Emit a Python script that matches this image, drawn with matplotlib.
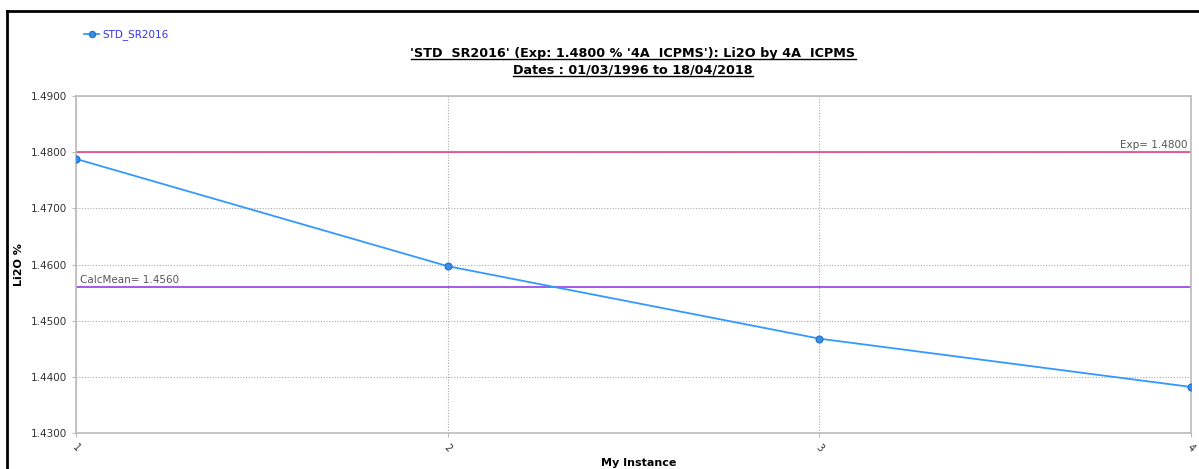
import matplotlib
matplotlib.use("Agg")
import matplotlib.pyplot as plt
from matplotlib.lines import Line2D

# data
instances = [1, 2, 3, 4]
values = [1.4788, 1.4597, 1.4468, 1.4382]
exp_value = 1.4800
calc_mean = 1.4560
yticks = [1.43, 1.44, 1.45, 1.46, 1.47, 1.48, 1.49]

plt.rcParams['font.family'] = ['DejaVu Sans']

fig = plt.figure(figsize=(11.99, 4.69), dpi=100)
ax = fig.add_axes([76 / 1199, 1 - 433 / 469, (1191 - 76) / 1199, (433 - 96) / 469])

line_col = '#3399ff'
ax.plot(instances, values, color=line_col, lw=1.3, marker='o', ms=5,
        mfc='#3a8ee6', mec='#1f6fd0', mew=0.8, label='STD_SR2016', zorder=3)

ax.axhline(exp_value, color='#e8307f', lw=1.1, zorder=2)
ax.axhline(calc_mean, color='#8a2be2', lw=1.1, zorder=2)
ax.text(3.99, exp_value + 0.0003, 'Exp= %.4f' % exp_value, ha='right', va='bottom',
        fontsize=7.5, color='#555555')
ax.text(1.01, calc_mean + 0.0003, 'CalcMean= %.4f' % calc_mean, ha='left', va='bottom',
        fontsize=7.5, color='#555555')

ax.set_xlim(1, 4)
ax.set_ylim(1.43, 1.49)
ax.set_xticks(instances)
ax.set_xticklabels([str(i) for i in instances], rotation=-45, fontsize=7, color='#333333')
ax.set_yticks(yticks)
ax.set_yticklabels(['%.4f' % v for v in yticks], fontsize=7.5, color='#333333')
ax.tick_params(axis='both', length=3, color='#bbbbbb', width=0.8)
ax.grid(True, color='#aaaaaa', ls=(0, (1, 1.5)), lw=0.8)
for s in ax.spines.values():
    s.set_color('#bbbbbb')
    s.set_linewidth(1.2)

ax.set_ylabel('Li2O %', fontsize=8, fontweight='bold')
ax.yaxis.set_label_coords(-0.047, 0.5)
ax.set_xlabel('My Instance', fontsize=8, fontweight='bold')
ax.xaxis.set_label_coords(0.505, -0.075)

leg = fig.legend(loc='upper left', bbox_to_anchor=(75 / 1199, 1 - 20 / 469), frameon=False,
                 fontsize=7.5, handlelength=1.4, handletextpad=0.3, markerscale=0.9)
for t in leg.get_texts():
    t.set_color('#3333ee')

t1 = fig.text(633 / 1199, 1 - 53 / 469, "'STD  SR2016' (Exp: 1.4800 % '4A  ICPMS'): Li2O by 4A  ICPMS",
              ha='center', va='center', fontsize=9.2, fontweight='bold')
t2 = fig.text(633 / 1199, 1 - 70 / 469, "Dates : 01/03/1996 to 18/04/2018",
              ha='center', va='center', fontsize=9.2, fontweight='bold')

# underline the title lines
fig.canvas.draw()
r = fig.canvas.get_renderer()
for t in (t1, t2):
    bb = t.get_window_extent(r).transformed(fig.transFigure.inverted())
    fig.add_artist(Line2D([bb.x0, bb.x1], [bb.y0 + 0.002, bb.y0 + 0.002],
                          transform=fig.transFigure, color='black', lw=1))

# outer frame of the image
fig.add_artist(Line2D([7 / 1199, 7 / 1199], [0, 1 - 11 / 469], transform=fig.transFigure,
                      color='black', lw=2))
fig.add_artist(Line2D([7 / 1199, 1], [1 - 11 / 469, 1 - 11 / 469], transform=fig.transFigure,
                      color='black', lw=2))

fig.savefig('out.png', dpi=100)
